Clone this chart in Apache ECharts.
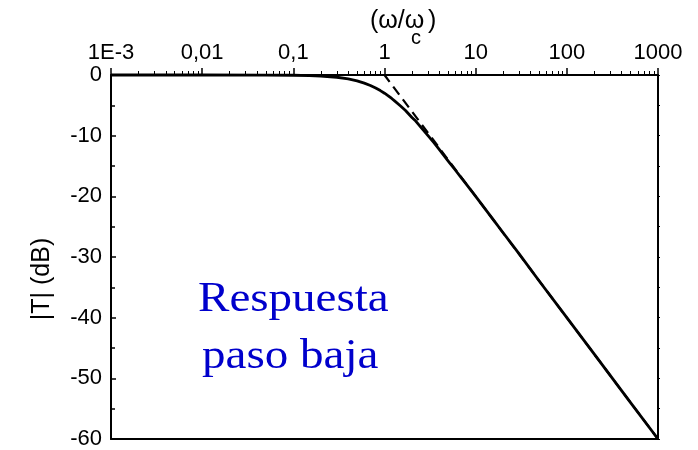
<!DOCTYPE html>
<html><head><meta charset="utf-8">
<script src="https://cdn.jsdelivr.net/npm/echarts@6/dist/echarts.min.js"></script>
<style>html,body{margin:0;padding:0;background:#fff}#c{width:698px;height:450px}</style>
</head><body><div id="c"></div>
<script>
// ω/ωc sample points and |T| (dB) values
const ratio = [0.001, 0.01, 0.05, 0.1, 0.15, 0.2, 0.3, 0.4, 0.5, 0.6, 0.7, 0.8, 0.9, 1, 1.1, 1.2, 1.3, 1.5, 1.7, 2, 2.2, 2.5, 3, 3.5, 4, 5, 6, 7, 8, 10, 15, 20, 30, 50, 100, 200, 500, 1000];
const responseDb = [0, 0, -0.01, -0.04, -0.1, -0.17, -0.37, -0.64, -0.97, -1.34, -1.73, -2.15, -2.57, -3.0, -3.43, -3.87, -4.3, -5.1, -5.85, -7.0, -7.6, -8.6, -10.0, -11.2, -12.3, -14.2, -15.7, -17.0, -18.1, -20.0, -23.5, -26.0, -29.5, -34.0, -40.0, -46.0, -54.0, -60.0];
// asymptote (dashed)
const asymRatio = [0.001, 1, 1000];
const asymDb = [0, 0, -60];
// top axis ticks
const majorTicks = [0.001, 0.01, 0.1, 1, 10, 100, 1000];
const majorLabels = ['1E-3', '0,01', '0,1', '1', '10', '100', '1000'];
const minorTicks = [];
[0.001, 0.01, 0.1, 1, 10, 100].forEach(d => { for (let k = 2; k <= 9; k++) minorTicks.push(+(d * k).toPrecision(3)); });

const chart = echarts.init(document.getElementById('c'), null, {renderer: 'canvas'});
const font = 'Liberation Sans';
const blk = '#000';
const xBase = {type: 'log', logBase: 10, min: 0.001, max: 1000, gridIndex: 0, splitLine: {show: false}};
chart.setOption({
  animation: false,
  backgroundColor: '#fff',
  grid: {left: 111, right: 40, top: 75, bottom: 9, containLabel: false},
  xAxis: [
    Object.assign({}, xBase, {
      position: 'top',
      axisLine: {show: true, lineStyle: {color: blk, width: 2}},
      axisTick: {show: true, inside: false, length: 7, lineStyle: {color: blk, width: 1.5}, customValues: majorTicks},
      axisLabel: {show: true, customValues: majorTicks, margin: 11, color: blk, fontFamily: font, fontSize: 22,
        formatter: v => { const i = majorTicks.findIndex(t => Math.abs(Math.log10(t) - Math.log10(v)) < 1e-6); return i >= 0 ? majorLabels[i] : ''; }}
    }),
    Object.assign({}, xBase, {
      position: 'top',
      axisLine: {show: false},
      axisTick: {show: true, inside: false, length: 4, lineStyle: {color: blk, width: 1}, customValues: minorTicks},
      axisLabel: {show: false}
    }),
    Object.assign({}, xBase, {
      position: 'bottom',
      axisLine: {show: true, lineStyle: {color: blk, width: 2}},
      axisTick: {show: false}, axisLabel: {show: false}
    })
  ],
  yAxis: [
    {type: 'value', position: 'left', min: -60, max: 0, interval: 10,
      splitLine: {show: false},
      axisLine: {show: true, onZero: false, lineStyle: {color: blk, width: 2}},
      axisTick: {show: true, inside: true, length: 5, lineStyle: {color: blk, width: 1.5}},
      minorTick: {show: true, splitNumber: 2, length: 4, lineStyle: {color: blk, width: 1.5}},
      axisLabel: {show: true, margin: 9, color: blk, fontFamily: font, fontSize: 22}
    },
    {type: 'value', position: 'right', min: -60, max: 0, interval: 10,
      splitLine: {show: false},
      axisLine: {show: true, onZero: false, lineStyle: {color: blk, width: 2}},
      axisTick: {show: true, inside: false, length: 2, lineStyle: {color: blk, width: 1}},
      minorTick: {show: true, splitNumber: 2, length: 2, lineStyle: {color: blk, width: 1}},
      axisLabel: {show: false}
    }
  ],
  series: [
    {type: 'line', xAxisIndex: 0, yAxisIndex: 0, data: asymRatio.map((x, i) => [x, asymDb[i]]),
      showSymbol: false, symbol: 'none', clip: false,
      lineStyle: {color: blk, width: 2.2, type: [10, 6]}},
    {type: 'line', xAxisIndex: 0, yAxisIndex: 0, data: ratio.map((x, i) => [x, responseDb[i]]),
      showSymbol: false, symbol: 'none', smooth: false, clip: false,
      lineStyle: {color: blk, width: 2.8, join: 'round'}}
  ],
  graphic: [
    {type: 'text', x: 198, y: 300, scaleX: 1.12, style: {text: 'Respuesta', font: '42px "Liberation Serif"', fill: '#0000cc', verticalAlign: 'middle'}},
    {type: 'text', x: 202, y: 357, scaleX: 1.12, style: {text: 'paso baja', font: '42px "Liberation Serif"', fill: '#0000cc', verticalAlign: 'middle'}},
    {type: 'text', x: 370, y: 21, style: {text: '(ω/ω', font: '25px "Liberation Sans"', fill: blk, verticalAlign: 'middle'}},
    {type: 'text', x: 411, y: 38, style: {text: 'c', font: '20px "Liberation Sans"', fill: blk, verticalAlign: 'middle'}},
    {type: 'text', x: 428, y: 21, style: {text: ')', font: '25px "Liberation Sans"', fill: blk, verticalAlign: 'middle'}},
    {type: 'text', x: 42, y: 279, rotation: Math.PI / 2, style: {text: '|T| (dB)', font: '25px "Liberation Sans"', fill: blk, align: 'center', verticalAlign: 'middle'}}
  ]
});
</script>
</body></html>
